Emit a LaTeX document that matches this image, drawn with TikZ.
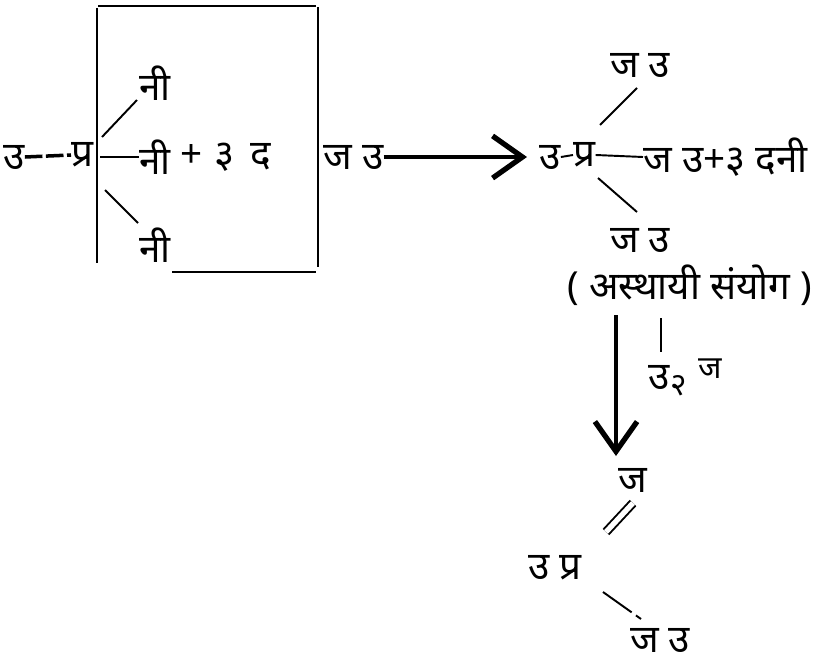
\documentclass[tikz,border=0pt]{standalone}
\usepackage{fontspec}
\newfontfamily\hindi[Script=Devanagari]{Noto Sans}
\usetikzlibrary{arrows.meta}

\begin{document}
\begin{tikzpicture}[x=0.02cm, y=-0.02cm,
    txt/.style={font=\hindi\fontsize{22}{26}\selectfont, inner sep=0pt},
    small/.style={font=\hindi\fontsize{18}{21}\selectfont, inner sep=0pt},
    boxline/.style={line width=0.8pt},
    stroke/.style={line width=1.1pt},
    bigarrow/.style={line width=2.6pt, -{Straight Barb[length=17pt, width=24pt, line width=3pt]}}]
  \useasboundingbox (0,0) rectangle (833,663);

  % left formula and box
  \node[txt, anchor=west] (lU)   at (3,157)   {उ};
  \node[txt, anchor=west] (lPra) at (71,155)  {प्र};
  \node[txt] (bNiT) at (155,83)  {नी};
  \node[txt, anchor=west] (bNiM) at (139,157) {नी};
  \node[txt, anchor=west] (bRest) at (180,157) {+\hspace{7pt}३\hspace{9pt}द};
  \node[txt] (bNiB) at (155,245) {नी};
  \node[txt, anchor=west] (lJU)  at (323,157) {ज उ};
  \draw[line width=2pt, dash pattern=on 10pt off 2pt] (lU.east) -- (lPra.west);
  \draw[boxline] (97,8) -- (97,263);
  \draw[boxline] (98,6) -- (316,6);
  \draw[boxline] (318,7) -- (318,267);
  \draw[boxline] (172,272) -- (316,272);
  \coordinate (sUa) at (102,137); \coordinate (sUb) at (137,100);
  \coordinate (sDa) at (105,190); \coordinate (sDb) at (138,223);
  \coordinate (mD)  at (100,157);
  \draw[stroke] (sUa) -- (sUb);
  \draw[stroke] (sDa) -- (sDb);
  \draw[stroke] (mD) -- (bNiM.west);

  % right formula
  \node[txt, anchor=west] (rU)    at (539,157) {उ};
  \node[txt, anchor=west] (rPra)  at (573,155) {प्र};
  \node[txt, anchor=west] (rRest) at (643,157) {ज उ+३\hspace{6pt}दनी};
  \node[txt] (rTop)  at (640,65)  {ज उ};
  \node[txt] (rBot)  at (640,240) {ज उ};
  \node[txt] (temp)  at (690,285) {( अस्थायी संयोग )};
  \draw[bigarrow] (lJU.east) -- (527,157);
  \draw[stroke] (rU.east) -- (rPra.west);
  \draw[stroke] (rPra.east) -- (rRest.west);
  \coordinate (tUa) at (600,125); \coordinate (tUb) at (637,88);
  \coordinate (tDa) at (598,178); \coordinate (tDb) at (637,212);
  \draw[stroke] (tUa) -- (tUb);
  \draw[stroke] (tDa) -- (tDb);

  % lower part
  \node[txt, anchor=west] (u2) at (648,377) {उ};
  \node[small, anchor=west] (two) at (u2.east) [yshift=-5pt] {२};
  \node[small, anchor=west] (uj) at (698,369) {ज};
  \node[txt] (dJ)    at (633,480) {ज};
  \node[txt] (dUPra) at (555,568) {उ प्र};
  \node[txt] (dJU)   at (660,640) {ज उ};
  \coordinate (aTop) at (616,315);
  \coordinate (aEnd) at (616,456);
  \coordinate (vTop) at (661,318);
  \draw[bigarrow] (aTop) -- (aEnd);
  \draw[stroke] (vTop) -- (661,352);
  \draw[stroke, double, double distance=3pt] (606,532) -- (633,503);
  \coordinate (eA) at (603,592); \coordinate (eB) at (641,619);
  \draw[stroke, dash pattern=on 20pt off 3pt] (eA) -- (eB);
\end{tikzpicture}
\end{document}
